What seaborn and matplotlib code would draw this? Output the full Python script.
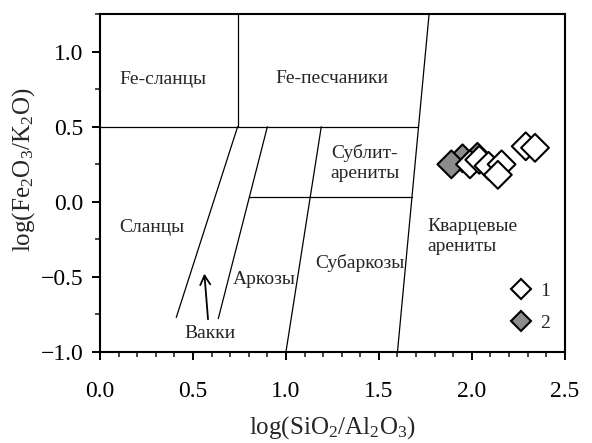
import matplotlib
matplotlib.use("Agg")
import matplotlib.pyplot as plt
import seaborn as sns
import pandas as pd
from matplotlib.ticker import MultipleLocator, FuncFormatter
from matplotlib.lines import Line2D

# Sample compositions: log(SiO2/Al2O3) vs log(Fe2O3/K2O)
group1_x = [1.99, 2.04, 2.09, 2.16, 2.14, 2.29, 2.34]
group1_y = [0.25, 0.28, 0.24, 0.25, 0.18, 0.37, 0.36]
group2_x = [1.95, 2.03, 1.89]
group2_y = [0.29, 0.30, 0.25]
group_labels = ["1", "2"]

# Classification field boundaries (Herron diagram), as polyline vertices
boundaries = [
    ([0.0, 1.713], [0.5, 0.5]),
    ([0.74, 0.74], [0.5, 1.25]),
    ([1.60, 1.77], [-1.0, 1.25]),
    ([0.74, 0.41], [0.5, -0.77]),
    ([0.90, 0.636], [0.5, -0.778]),
    ([1.19, 1.0], [0.5, -1.0]),
    ([0.803, 1.678], [0.03, 0.03]),
]

# Field names with their anchor positions
field_names = ["Fe-сланцы", "Fe-песчаники", "Сублит-\nарениты", "Сланцы",
               "Аркозы", "Субаркозы", "Вакки"]
field_x = [0.34, 1.245, 1.425, 0.278, 0.883, 1.40, 0.59]
field_y = [0.814, 0.82, 0.26, -0.17, -0.52, -0.406, -0.88]
quartz_label = "Кварцевые\nарениты"
quartz_pos = (1.76, -0.23)

sns.set_theme(style="ticks")
plt.rcParams["font.family"] = ["Liberation Serif", "DejaVu Serif"]
plt.rcParams["mathtext.fontset"] = "custom"
plt.rcParams["mathtext.rm"] = "Liberation Serif"
plt.rcParams["mathtext.it"] = "Liberation Serif"

df = pd.concat([
    pd.DataFrame({"x": group2_x, "y": group2_y, "group": group_labels[1]}),
    pd.DataFrame({"x": group1_x, "y": group1_y, "group": group_labels[0]}),
])

fig = plt.figure(figsize=(5.92, 4.43), dpi=100)
ax = fig.add_axes([0.169, 0.2054, 0.785, 0.7626])

for bx, by in boundaries:
    ax.plot(bx, by, color="black", lw=0.9, zorder=1)

palette = {"1": "white", "2": "#8c8c8c"}
sns.scatterplot(data=df, x="x", y="y", hue="group", palette=palette,
                marker="D", s=200, edgecolor="black", linewidth=1.5,
                legend=False, ax=ax, zorder=3)

for name, fx, fy in zip(field_names, field_x, field_y):
    ax.text(fx, fy, name, ha="center", va="center", fontsize=14,
            linespacing=1.25)
ax.text(quartz_pos[0], quartz_pos[1], quartz_label, ha="left", va="center",
        fontsize=14, linespacing=1.25)

ax.annotate("", xy=(0.56, -0.46), xytext=(0.582, -0.80),
            arrowprops=dict(arrowstyle="->,head_length=0.55,head_width=0.3",
                            lw=1.3, color="black"))

handles = [Line2D([], [], ls="none", marker="D", markersize=10.5,
                  markerfacecolor=palette[g], markeredgecolor="black",
                  markeredgewidth=1.5) for g in group_labels]
ax.legend(handles, group_labels, frameon=False, fontsize=14,
          loc="lower right", bbox_to_anchor=(0.99, 0.03),
          handlelength=1.0, handletextpad=0.5, labelspacing=0.75,
          borderpad=0)

ax.set_xlim(0, 2.5)
ax.set_ylim(-1.0, 1.25)
ax.xaxis.set_major_locator(MultipleLocator(0.5))
ax.xaxis.set_minor_locator(MultipleLocator(0.1))
ax.yaxis.set_major_locator(MultipleLocator(0.5))
ax.yaxis.set_minor_locator(MultipleLocator(0.25))
fmt = FuncFormatter(lambda v, pos: f"{v:.1f}".replace("-", "\u2212"))
ax.xaxis.set_major_formatter(fmt)
ax.yaxis.set_major_formatter(fmt)
ax.tick_params(which="major", direction="out", length=6, width=1.4,
               labelsize=17, colors="black", pad=6)
ax.tick_params(axis="x", which="major", pad=15)
ax.tick_params(which="minor", direction="out", length=3.5, width=1.2)
for sp in ax.spines.values():
    sp.set_linewidth(1.5)
    sp.set_color("black")

ax.set_xlabel(r"log(SiO$_2$/Al$_2$O$_3$)", fontsize=18)
ax.set_ylabel(r"log(Fe$_2$O$_3$/K$_2$O)", fontsize=18)
ax.xaxis.set_label_coords(0.50, -0.183)
ax.yaxis.set_label_coords(-0.135, 0.54)

fig.savefig("out.png", dpi=100)
